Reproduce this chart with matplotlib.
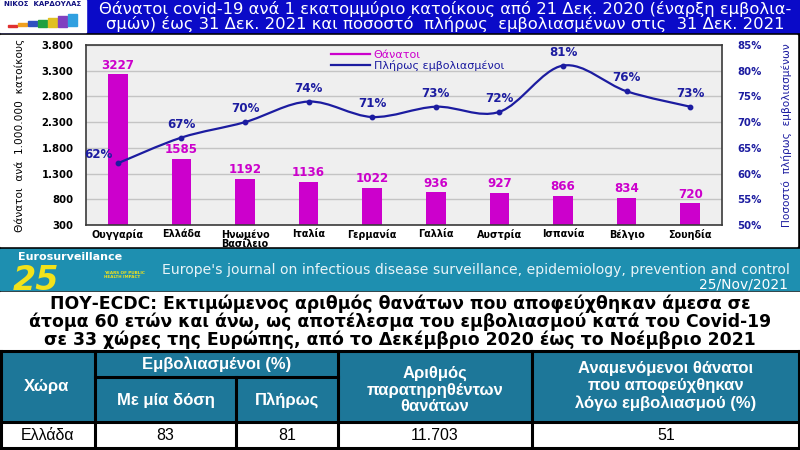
import matplotlib
matplotlib.use("Agg")
import matplotlib.pyplot as plt
from matplotlib.patches import Rectangle, PathPatch
from matplotlib.path import Path
from matplotlib.lines import Line2D
from matplotlib.ticker import FuncFormatter
import numpy as np

# chart data
countries = ["Ουγγαρία", "Ελλάδα", "Ηνωμένο\nΒασίλειο", "Ιταλία", "Γερμανία",
             "Γαλλία", "Αυστρία", "Ισπανία", "Βέλγιο", "Σουηδία"]
deaths = [3227, 1585, 1192, 1136, 1022, 936, 927, 866, 834, 720]
fully_vacc = [62, 67, 70, 74, 71, 73, 72, 81, 76, 73]
left_ticks = [300, 800, 1300, 1800, 2300, 2800, 3300, 3800]
right_ticks = [50, 55, 60, 65, 70, 75, 80, 85]

# table data
tbl_country = "Ελλάδα"
tbl_one_dose = "83"
tbl_full = "81"
tbl_observed = "11.703"
tbl_averted = "51"

title = ("Θάνατοι covid-19 ανά 1 εκατομμύριο κατοίκους από 21 Δεκ. 2020 (έναρξη εμβολια-\n"
         "σμών) έως 31 Δεκ. 2021 και ποσοστό  πλήρως  εμβολιασμένων στις  31 Δεκ. 2021")
who_text = ("ΠΟΥ-ECDC: Εκτιμώμενος αριθμός θανάτων που αποφεύχθηκαν άμεσα σε\n"
            "άτομα 60 ετών και άνω, ως αποτέλεσμα του εμβολιασμού κατά του Covid-19\n"
            "σε 33 χώρες της Ευρώπης, από το Δεκέμβριο 2020 έως το Νοέμβριο 2021")

MAG = "#cc00cc"
NAVY = "#1c1ca0"
BANNER = "#1e8fb0"
HEAD = "#1d7799"

fig = plt.figure(figsize=(8, 4.5), dpi=100, facecolor="black")

# background / layout in pixel coords
bg = fig.add_axes([0, 0, 1, 1], zorder=0)
bg.set_xlim(0, 800)
bg.set_ylim(450, 0)
bg.axis("off")

bg.add_patch(Rectangle((0, 0), 800, 32, color="#0a0ac8"))
bg.add_patch(Rectangle((0, 35), 797, 211, color="white"))
bg.add_patch(Rectangle((0, 249), 800, 41, color=BANNER))
bg.add_patch(Rectangle((0, 292), 800, 58, color="white"))

# little logo top left
bg.add_patch(Rectangle((0, 0), 86, 32, color="white"))
bg.text(43, 4.5, "ΝΙΚΟΣ  ΚΑΡΔΟΥΛΑΣ", ha="center", va="center", fontsize=5,
        fontweight="bold", color="#101080")
logo_cols = ["#e03030", "#f0a020", "#3050c0", "#20a040", "#e0c020", "#8040c0", "#30a0e0"]
for i, c in enumerate(logo_cols):
    bg.add_patch(Rectangle((8 + i * 10, 25 - i * 1.8), 9, 1.5 + i * 1.8, color=c))

bg.text(445, 16.5, title, ha="center", va="center", color="white", fontsize=11.8,
        linespacing=0.95)

# Eurosurveillance banner
bg.text(36, 280, "25", ha="center", va="center", fontsize=24, fontweight="bold",
        style="italic", color="#f2e21a")
bg.text(70, 256.5, "Eurosurveillance", ha="center", va="center", fontsize=8,
        fontweight="bold", color="white")
bg.text(104, 275, "YEARS OF PUBLIC\nHEALTH IMPACT", ha="left", va="center", fontsize=3,
        fontweight="bold", color="#f2e21a", linespacing=1.0)
bg.text(790, 270, "Europe's journal on infectious disease surveillance, epidemiology, "
        "prevention and control", ha="right", va="center", fontsize=10.1, color="#e8f4f8")
bg.text(788, 284, "25/Nov/2021", ha="right", va="center", fontsize=10, color="white")

bg.text(400, 322, who_text, ha="center", va="center", fontsize=12.4, fontweight="bold",
        linespacing=0.98)

# table
cols = [0, 95, 338, 532, 800]
sub = 236
top, mid, hbot, bot = 351, 377, 422, 448
bg.add_patch(Rectangle((0, top), 800, hbot - top, color=HEAD))
bg.add_patch(Rectangle((0, hbot), 800, bot - hbot, color="white"))
lw = 2.2
for yv in [top, hbot, bot]:
    bg.plot([0, 800], [yv, yv], color="black", lw=lw)
bg.plot([cols[1], cols[2]], [mid, mid], color="black", lw=lw)
for xv in cols[1:4]:
    bg.plot([xv, xv], [top, bot], color="black", lw=lw)
bg.plot([sub, sub], [mid, bot], color="black", lw=lw)
bg.plot([1, 1], [top, bot], color="black", lw=lw)
bg.plot([799, 799], [top, bot], color="black", lw=lw)

hkw = dict(ha="center", va="center", color="white", fontweight="bold",
           family="Liberation Sans", fontsize=12, linespacing=1.15)
bg.text(47, 387, "Χώρα", **hkw)
bg.text((cols[1] + cols[2]) / 2, 364, "Εμβολιασμένοι (%)", **hkw)
bg.text((cols[1] + sub) / 2, 400, "Με μία δόση", **hkw)
bg.text((sub + cols[2]) / 2, 400, "Πλήρως", **hkw)
bg.text((cols[2] + cols[3]) / 2, 390, "Αριθμός\nπαρατηρηθέντων\nθανάτων", **hkw)
bg.text((cols[3] + cols[4]) / 2, 386, "Αναμενόμενοι θάνατοι\nπου αποφεύχθηκαν\nλόγω εμβολιασμού (%)", **hkw)

dkw = dict(ha="center", va="center", color="black", family="Liberation Sans", fontsize=11.5)
row_vals = [tbl_country, tbl_one_dose, tbl_full, tbl_observed, tbl_averted]
row_x = [47, (cols[1] + sub) / 2, (sub + cols[2]) / 2, (cols[2] + cols[3]) / 2,
         (cols[3] + cols[4]) / 2]
for xv, s in zip(row_x, row_vals):
    bg.text(xv, 435.5, s, **dkw)

# chart
ax = fig.add_axes([86 / 800, (450 - 225) / 450, (722 - 86) / 800, (225 - 45) / 450], zorder=2)
ax.set_facecolor("#efefef")
x = np.arange(len(countries))
ax.bar(x, [d - left_ticks[0] for d in deaths], bottom=left_ticks[0], width=0.31,
       color=MAG, zorder=2)
ax.set_xlim(-0.5, len(countries) - 0.5)
ax.set_ylim(left_ticks[0], left_ticks[-1])
ax.set_yticks(left_ticks)
ax.yaxis.set_major_formatter(FuncFormatter(lambda v, p: f"{int(v):,}".replace(",", ".")))
ax.grid(axis="y", color="#c4c4c4", lw=1, zorder=0)
ax.set_axisbelow(True)
ax.set_xticks(x)
ax.set_xticklabels(countries, fontsize=6.9, fontweight="bold", linespacing=0.92)
ax.tick_params(axis="x", length=0, pad=3)
ax.tick_params(axis="y", length=0, pad=9, labelsize=7.3)
for t in ax.get_yticklabels():
    t.set_fontweight("bold")
for s in ax.spines.values():
    s.set_color("#3a3a3a")
    s.set_linewidth(1.2)
ax.set_ylabel("Θάνατοι  ανά  1.000.000  κατοίκους", fontsize=7.6, labelpad=12)

for xi, d in zip(x, deaths):
    ax.annotate(str(d), (xi, d), xytext=(0, 2), textcoords="offset points", ha="center",
                va="bottom", color=MAG, fontsize=8.6, fontweight="bold")

ax2 = ax.twinx()
ax2.set_ylim(right_ticks[0], right_ticks[-1])
ax2.set_yticks(right_ticks)
ax2.yaxis.set_major_formatter(FuncFormatter(lambda v, p: f"{int(v)}%"))
ax2.tick_params(axis="y", length=0, pad=11, labelsize=7.3, labelcolor=NAVY)
for t in ax2.get_yticklabels():
    t.set_fontweight("bold")
for s in ax2.spines.values():
    s.set_visible(False)
ax2.set_ylabel("Ποσοστό  πλήρως  εμβολιασμένων", fontsize=7.6, color=NAVY,
               rotation=90, labelpad=14)

# smoothed line (Catmull-Rom bezier through the points)
pts = np.column_stack([x, fully_vacc]).astype(float)
verts = [pts[0]]
codes = [Path.MOVETO]
n = len(pts)
for i in range(n - 1):
    p0 = pts[max(i - 1, 0)]
    p1 = pts[i]
    p2 = pts[i + 1]
    p3 = pts[min(i + 2, n - 1)]
    verts += [p1 + (p2 - p0) / 6, p2 - (p3 - p1) / 6, p2]
    codes += [Path.CURVE4] * 3
ax2.add_patch(PathPatch(Path(verts, codes), fill=False, edgecolor=NAVY, lw=1.6, zorder=3))
ax2.plot(x, fully_vacc, "o", color=NAVY, markersize=3.2, zorder=4)
for i, (xi, v) in enumerate(zip(x, fully_vacc)):
    off = (-14, 2) if i == 0 else (0, 5)
    ax2.annotate(f"{v}%", (xi, v), xytext=off, textcoords="offset points", ha="center",
                 va="bottom", color=NAVY, fontsize=8.6, fontweight="bold")

handles = [Line2D([], [], color=MAG, lw=1.6), Line2D([], [], color=NAVY, lw=1.6)]
leg = ax2.legend(handles, ["Θάνατοι", "Πλήρως εμβολιασμένοι"], loc="upper left",
                 bbox_to_anchor=(0.37, 1.03), frameon=False, fontsize=8, handlelength=3.5,
                 handletextpad=0.3, labelspacing=0.05, labelcolor=[MAG, NAVY])

fig.savefig("out.png", dpi=100, facecolor="black")
